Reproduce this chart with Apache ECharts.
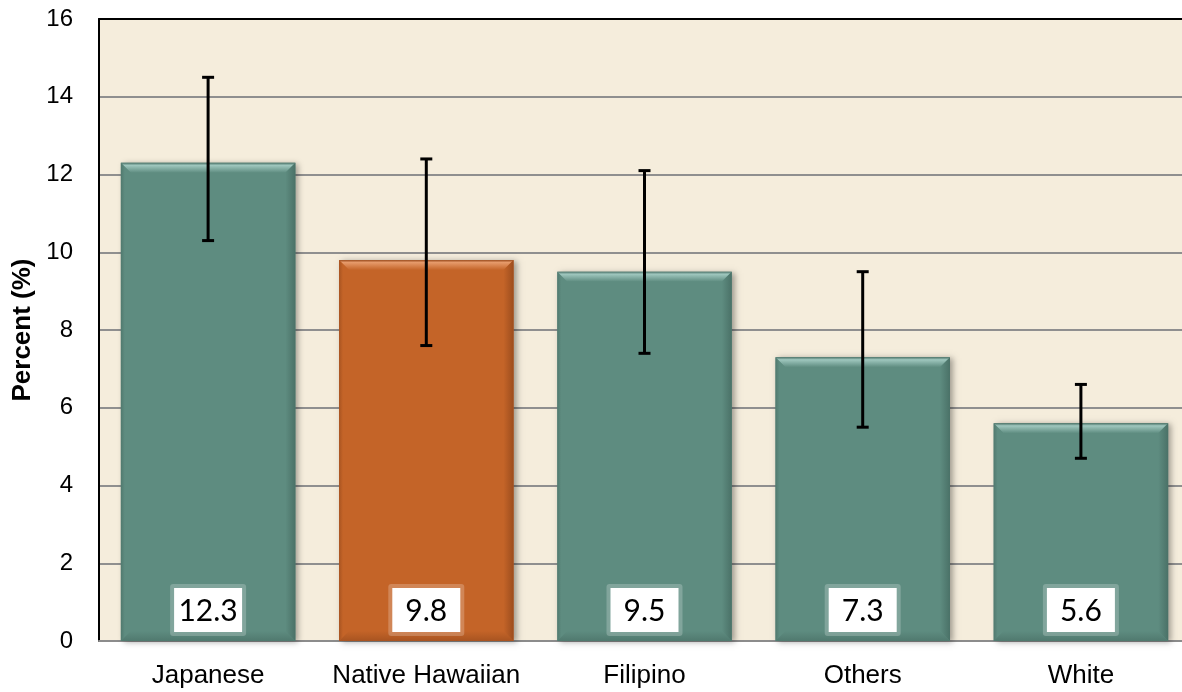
<!DOCTYPE html>
<html>
<head>
    <meta charset="utf-8">
    <title>Percent by ethnicity</title>
    <script src="https://cdn.jsdelivr.net/npm/echarts@6/dist/echarts.min.js"></script>
</head>
<body style="margin:0;background:#fff;">
    <div id="main" style="width:1182px;height:692px;"></div>
    <script>
        var categories = ['Japanese', 'Native Hawaiian', 'Filipino', 'Others', 'White'];
        var values = [12.3, 9.8, 9.5, 7.3, 5.6];
        var lowerCI = [10.3, 7.6, 7.4, 5.5, 4.7];
        var upperCI = [14.5, 12.4, 12.1, 9.5, 6.6];
        var highlighted = 'Native Hawaiian';
        var yTicks = [0, 2, 4, 6, 8, 10, 12, 14, 16];

        var TEAL = { base: '#5e8c80', light: '#9fc7be', dark: '#4a7167' };
        var ORANGE = { base: '#c46428', light: '#e69a6a', dark: '#9c4d1e' };
        var BEVEL = 10;
        var LABEL_POS = 0.8;

        var chart = echarts.init(document.getElementById('main'));

        function colorsFor(idx) {
            return categories[idx] === highlighted ? ORANGE : TEAL;
        }

        // bar with a soft bevel, a bit like the office chart style
        function renderBar(params, api) {
            var idx = api.value(0);
            var top = api.coord([idx, api.value(1)]);
            var base = api.coord([idx, 0]);
            var w = api.size([1, 0])[0] * 0.8;
            var x = top[0] - w / 2;
            var y = top[1];
            var h = base[1] - top[1];
            var b = BEVEL;
            var c = colorsFor(idx);
            return {
                type: 'group',
                children: [
                    {
                        type: 'rect',
                        shape: { x: x, y: y, width: w, height: h },
                        style: {
                            fill: c.base,
                            shadowBlur: 6,
                            shadowOffsetX: 3,
                            shadowOffsetY: 1,
                            shadowColor: 'rgba(0,0,0,0.35)'
                        }
                    },
                    {
                        type: 'polygon',
                        shape: { points: [[x, y], [x + w, y], [x + w - b, y + b], [x + b, y + b]] },
                        style: {
                            fill: new echarts.graphic.LinearGradient(0, 0, 0, 1, [
                                { offset: 0, color: c.dark },
                                { offset: 0.25, color: c.light },
                                { offset: 1, color: c.base }
                            ])
                        }
                    },
                    {
                        type: 'polygon',
                        shape: { points: [[x + w, y], [x + w, y + h], [x + w - b, y + h - b], [x + w - b, y + b]] },
                        style: {
                            fill: new echarts.graphic.LinearGradient(0, 0, 1, 0, [
                                { offset: 0, color: c.base },
                                { offset: 1, color: c.dark }
                            ])
                        }
                    },
                    {
                        type: 'polygon',
                        shape: { points: [[x, y], [x + b, y + b], [x + b, y + h - b], [x, y + h]] },
                        style: {
                            fill: new echarts.graphic.LinearGradient(0, 0, 1, 0, [
                                { offset: 0, color: c.dark },
                                { offset: 0.4, color: c.base },
                                { offset: 1, color: c.base }
                            ]),
                            opacity: 0.7
                        }
                    },
                    {
                        type: 'polygon',
                        shape: { points: [[x, y + h], [x + b, y + h - b], [x + w - b, y + h - b], [x + w, y + h]] },
                        style: {
                            fill: new echarts.graphic.LinearGradient(0, 0, 0, 1, [
                                { offset: 0, color: c.base },
                                { offset: 1, color: c.dark }
                            ]),
                            opacity: 0.7
                        }
                    }
                ]
            };
        }

        function renderLabel(params, api) {
            var idx = api.value(0);
            var p = api.coord([idx, LABEL_POS]);
            var text = api.value(1).toFixed(1);
            var bw = 68, bh = 44, pad = 4;
            return {
                type: 'group',
                children: [
                    {
                        type: 'rect',
                        shape: { x: p[0] - bw / 2 - pad, y: p[1] - bh / 2 - pad, width: bw + pad * 2, height: bh + pad * 2, r: 3 },
                        style: { fill: 'rgba(255,255,255,0.22)' }
                    },
                    {
                        type: 'rect',
                        shape: { x: p[0] - bw / 2, y: p[1] - bh / 2, width: bw, height: bh },
                        style: { fill: '#ffffff' }
                    },
                    {
                        type: 'text',
                        style: {
                            x: p[0],
                            y: p[1] + 1,
                            text: text,
                            align: 'center',
                            verticalAlign: 'middle',
                            fontFamily: 'Lato, "Open Sans", sans-serif',
                            fontSize: 30,
                            fill: '#000'
                        }
                    }
                ]
            };
        }

        function renderError(params, api) {
            var idx = api.value(0);
            var lo = api.coord([idx, api.value(1)]);
            var hi = api.coord([idx, api.value(2)]);
            var cap = 6;
            var style = { stroke: '#000', lineWidth: 3 };
            return {
                type: 'group',
                children: [
                    { type: 'line', shape: { x1: lo[0], y1: lo[1], x2: hi[0], y2: hi[1] }, style: style },
                    { type: 'line', shape: { x1: lo[0] - cap, y1: lo[1], x2: lo[0] + cap, y2: lo[1] }, style: style },
                    { type: 'line', shape: { x1: hi[0] - cap, y1: hi[1], x2: hi[0] + cap, y2: hi[1] }, style: style }
                ]
            };
        }

        var option = {
            animation: false,
            grid: {
                left: 99,
                top: 19,
                bottom: 51,
                right: -8,
                outerBoundsMode: 'none',
                containLabel: false,
                show: true,
                backgroundColor: '#f5eddc',
                borderWidth: 0
            },
            xAxis: [
                {
                    type: 'category',
                    data: categories,
                    axisLine: { lineStyle: { color: '#8c8c8c', width: 2 } },
                    axisTick: { show: false },
                    axisLabel: {
                        interval: 0,
                        fontFamily: 'Arial, "Liberation Sans", sans-serif',
                        fontSize: 26,
                        color: '#000',
                        margin: 22
                    }
                },
                {
                    type: 'category',
                    position: 'top',
                    data: categories,
                    axisLine: { lineStyle: { color: '#000', width: 2 } },
                    axisTick: { show: false },
                    axisLabel: { show: false }
                }
            ],
            yAxis: {
                type: 'value',
                min: yTicks[0],
                max: yTicks[yTicks.length - 1],
                interval: 2,
                name: 'Percent (%)',
                nameLocation: 'middle',
                nameGap: 63,
                nameTextStyle: {
                    fontFamily: 'Arial, "Liberation Sans", sans-serif',
                    fontSize: 26,
                    fontWeight: 'bold',
                    color: '#000'
                },
                axisLine: { show: true, lineStyle: { color: '#000', width: 2 } },
                axisTick: { show: false },
                axisLabel: {
                    fontFamily: 'Arial, "Liberation Sans", sans-serif',
                    fontSize: 24,
                    color: '#000',
                    margin: 26
                },
                splitLine: { lineStyle: { color: '#8f8f8f', width: 2 } }
            },
            series: [
                {
                    type: 'custom',
                    renderItem: renderBar,
                    encode: { x: 0, y: 1 },
                    data: values.map(function (v, i) { return [i, v]; }),
                    z: 2
                },
                {
                    type: 'custom',
                    renderItem: renderLabel,
                    encode: { x: 0, y: -1 },
                    data: values.map(function (v, i) { return [i, v]; }),
                    z: 3
                },
                {
                    type: 'custom',
                    renderItem: renderError,
                    encode: { x: 0, y: [1, 2] },
                    data: lowerCI.map(function (v, i) { return [i, v, upperCI[i]]; }),
                    z: 4
                }
            ]
        };

        chart.setOption(option);
    </script>
</body>
</html>
